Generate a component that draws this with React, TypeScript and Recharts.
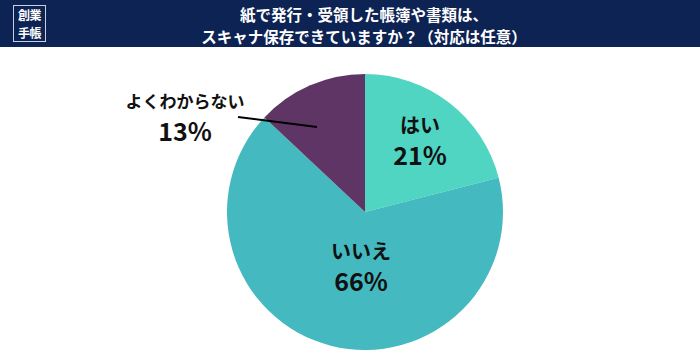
import React from "react";
import { PieChart, Pie, Cell } from "recharts";

const CATEGORIES = ["はい", "いいえ", "よくわからない"];
const VALUES = [21, 66, 13];

const COLORS = ["#4fd5c2", "#44b9c0", "#5f3566"];
const FONT = "'Noto Sans CJK JP', 'Noto Sans', sans-serif";

// label offsets from the pie centre
const LABEL_OFFSETS = [
  { x: 55, y: -88, small: 20 },
  { x: -4, y: 38, small: 20 },
  { x: -180, y: -112, small: 17 },
];

const data = CATEGORIES.map((name, i) => ({ name, value: VALUES[i] }));

function renderLabel(props: any) {
  const { cx, cy, index } = props;
  const off = LABEL_OFFSETS[index];
  const x = cx + off.x;
  const y = cy + off.y;
  return (
    <g key={index}>
      {index === 2 && (
        <line x1={cx - 127} y1={cy - 95} x2={cx - 48} y2={cy - 85} stroke="#000" strokeWidth={2} />
      )}
      <text x={x} y={y} textAnchor="middle" dominantBaseline="central" fontFamily={FONT} fontWeight={700} fontSize={off.small} fill="#111">
        {CATEGORIES[index]}
      </text>
      <text x={x} y={y + 30} textAnchor="middle" dominantBaseline="central" fontFamily={FONT} fontWeight={700} fontSize={25} fill="#111">
        {VALUES[index]}%
      </text>
    </g>
  );
}

export default function App() {
  return (
    <div style={{ position: "fixed", left: 0, top: 0, width: 700, height: 356, background: "#fff", overflow: "hidden" }}>
      <div style={{ position: "absolute", left: 0, top: 0, width: 700, height: 47, background: "#0d2353" }}>
        <div
          style={{
            position: "absolute", left: 13, top: 5, width: 31, height: 35,
            border: "1.5px solid #c8d0e0", color: "#fff", fontFamily: FONT, fontWeight: 700,
            fontSize: 12, lineHeight: "17.5px", textAlign: "center", letterSpacing: -0.5,
          }}
        >
          <div>創業</div>
          <div>手帳</div>
        </div>
        <div
          style={{
            position: "absolute", left: 56, width: 616, top: 3, textAlign: "center", color: "#fff",
            fontFamily: FONT, fontWeight: 700, fontSize: 15.5, lineHeight: "22px",
          }}
        >
          紙で発行・受領した帳簿や書類は、<br />スキャナ保存できていますか？（対応は任意）
        </div>
      </div>
      <div style={{ position: "absolute", left: 0, top: 0 }}>
        <PieChart width={700} height={356}>
          <Pie
            data={data}
            dataKey="value"
            cx={360}
            cy={207}
            outerRadius={138}
            startAngle={90}
            endAngle={-270}
            stroke="none"
            label={renderLabel}
            labelLine={false}
            isAnimationActive={false}
          >
            {data.map((_, i) => (
              <Cell key={i} fill={COLORS[i]} />
            ))}
          </Pie>
        </PieChart>
      </div>
    </div>
  );
}
